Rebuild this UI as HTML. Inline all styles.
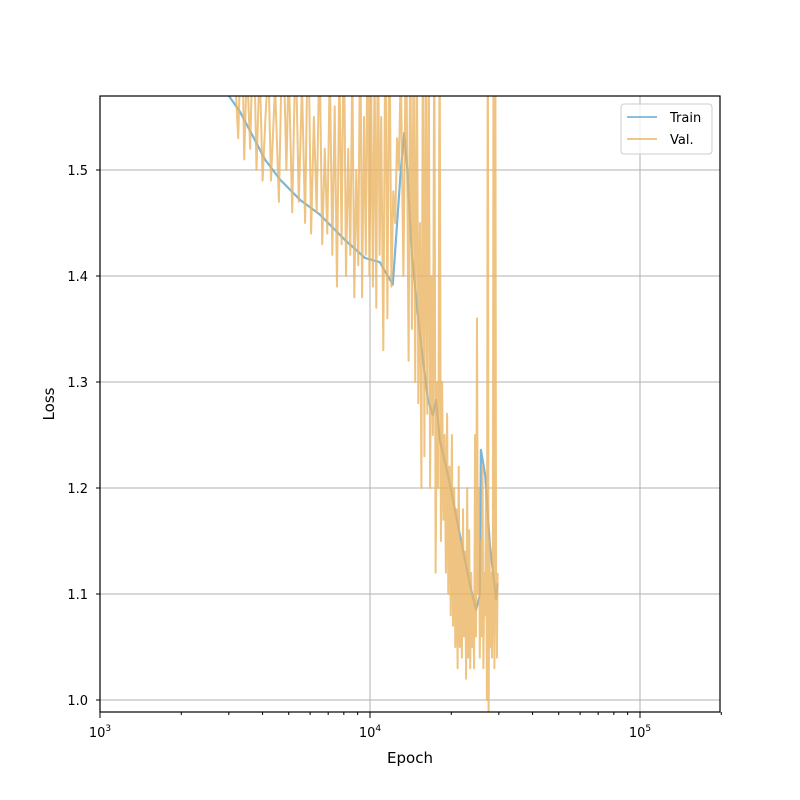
<!DOCTYPE html>
<html><head><meta charset="utf-8"><style>
body{margin:0;background:#fff;}
svg{display:block;font-family:"DejaVu Sans","Liberation Sans",sans-serif;}
</style></head><body>
<svg id="chart" width="800" height="800" viewBox="0 0 800 800">
<defs><clipPath id="clip"><rect x="100" y="96" width="620" height="616"/></clipPath></defs>
<rect width="800" height="800" fill="#fff"/>
<g id="grid"></g>
<g id="series" clip-path="url(#clip)"></g>
<rect x="100" y="96" width="620" height="616" fill="none" stroke="#000" stroke-width="1.2"/>
<g id="ticks"></g>
<text x="410" y="763" font-size="15" text-anchor="middle">Epoch</text>
<text x="54" y="404" font-size="15" text-anchor="middle" transform="rotate(-90 54 404)">Loss</text>
<g>
<rect x="621" y="104" width="91" height="50" rx="3" fill="#fff" fill-opacity="0.8" stroke="#ccc"/>
<line x1="627" y1="117" x2="657" y2="117" stroke="#6baed6" stroke-width="1.8" stroke-opacity="0.9"/>
<text x="670" y="122" font-size="13">Train</text>
<line x1="627" y1="139" x2="657" y2="139" stroke="#ebb461" stroke-width="1.8" stroke-opacity="0.85"/>
<text x="670" y="144" font-size="13">Val.</text>
</g>
</svg>
<script>
const trainEpoch=[3000,3300,3750,4080,4640,5500,6520,8080,9590,10870,12150,13000,13400,13750,14300,15300,16400,17100,17550,18150,19800,21500,23500,24700,25500,25750,26700,27800,29300,29700];
const trainLoss=[1.570,1.555,1.528,1.510,1.491,1.472,1.458,1.434,1.417,1.413,1.392,1.50,1.535,1.50,1.42,1.345,1.283,1.269,1.283,1.245,1.203,1.156,1.108,1.085,1.099,1.236,1.212,1.146,1.095,1.11];
const valEpoch=[3000,3150,3250,3350,3420,3500,3600,3700,3800,3900,4000,4100,4200,4300,4450,4600,4750,4900,5000,5150,5300,5450,5600,5750,5900,6050,6200,6350,6500,6650,6800,6950,7100,7250,7400,7550,7700,7850,8000,8150,8300,8450,8600,8750,8900,9050,9200,9350,9500,9650,9800,9950,10100,10250,10400,10550,10700,10850,11000,11200,11400,11600,11800,12000,12200,12400,12600,12800,13000,13300,13600,13900,14100,14300,14500,14700,14900,15100,15300,15500,15700,15900,16100,16300,16500,16700,16900,17100,17300,17500,17700,17900,18100,18300,18500,18700,18900,19100,19300,19500,19700,19900,20100,20300,20500,20700,20900,21100,21300,21500,21700,21900,22100,22300,22500,22700,22900,23100,23300,23500,23700,23900,24100,24300,24500,24700,24900,25100,25300,25500,25700,25900,26100,26300,26500,26700,26900,27100,27300,27500,27700,27900,28100,28300,28500,28700,28900,29100,29300,29500,29700,29900,30100];
const valLoss=[1.57,1.60,1.53,1.65,1.51,1.60,1.52,1.65,1.50,1.60,1.49,1.55,1.60,1.49,1.58,1.47,1.65,1.50,1.60,1.46,1.62,1.47,1.58,1.45,1.65,1.44,1.55,1.46,1.62,1.43,1.52,1.44,1.60,1.42,1.56,1.39,1.60,1.43,1.65,1.40,1.52,1.42,1.60,1.38,1.50,1.41,1.65,1.38,1.55,1.42,1.65,1.40,1.58,1.39,1.60,1.37,1.65,1.42,1.55,1.33,1.65,1.36,1.65,1.39,1.48,1.45,1.53,1.50,1.60,1.40,1.65,1.32,1.65,1.35,1.62,1.30,1.65,1.28,1.45,1.20,1.65,1.23,1.60,1.27,1.65,1.20,1.40,1.25,1.65,1.12,1.30,1.20,1.65,1.15,1.30,1.17,1.25,1.12,1.27,1.10,1.22,1.08,1.25,1.07,1.20,1.05,1.18,1.03,1.22,1.05,1.15,1.04,1.18,1.06,1.14,1.02,1.20,1.04,1.16,1.03,1.12,1.05,1.10,1.03,1.25,1.06,1.36,1.10,1.20,1.04,1.15,1.06,1.22,1.03,1.12,1.08,1.20,1.00,1.70,0.98,1.15,1.05,1.12,1.04,1.10,1.70,1.03,1.65,1.10,1.04,1.12];
const yTicks=[1.0,1.1,1.2,1.3,1.4,1.5];
const xDecades=[3,4,5];
const ns="http://www.w3.org/2000/svg";
const X0=100,PXD=270,Y0=700,PXU=1060;
function xs(e){return X0+(Math.log10(e)-3)*PXD;}
function ys(v){return Y0-(v-1.0)*PXU;}
function mk(t,a,p){const e=document.createElementNS(ns,t);for(const k in a)e.setAttribute(k,a[k]);p.appendChild(e);return e;}
const grid=document.getElementById('grid'),ticks=document.getElementById('ticks'),ser=document.getElementById('series');
yTicks.forEach(v=>{const y=ys(v);
const g=mk('line',{x1:100,x2:720,y1:y,y2:y,stroke:'#b0b0b0','stroke-width':1},grid);


mk('line',{x1:96,x2:100,y1:y,y2:y,stroke:'#000'},ticks);
const t=mk('text',{x:88,y:y+5,'font-size':13,'text-anchor':'end'},ticks);t.textContent=v.toFixed(1);

});
xDecades.forEach(d=>{const x=xs(Math.pow(10,d));
const g=mk('line',{x1:x,x2:x,y1:96,y2:712,stroke:'#b0b0b0','stroke-width':1},grid);


mk('line',{x1:x,x2:x,y1:712,y2:718,stroke:'#000'},ticks);
const t=mk('text',{x:x,y:737,'font-size':13,'text-anchor':'middle'},ticks);
t.innerHTML='10<tspan dy="-6" font-size="9">'+d+'</tspan>';

});
for(let d=3;d<=5;d++)for(let m=2;m<=9;m++){const e=m*Math.pow(10,d);if(e>2e5)break;const x=xs(e);mk('line',{x1:x,x2:x,y1:712,y2:715,stroke:'#000'},ticks);}
function path(E,L,col,op,w,name){const d=E.map((e,i)=>(i?'L':'M')+xs(e).toFixed(1)+' '+ys(L[i]).toFixed(1)).join(' ');
const p=mk('path',{d:d,fill:'none',stroke:col,'stroke-width':w,'stroke-opacity':op,'stroke-linejoin':'round'},ser);

}
path(trainEpoch,trainLoss,'#6baed6',0.9,2.2,'train-line');
path(valEpoch,valLoss,'#ebb461',0.8,2,'val-line');
</script>
</body></html>
